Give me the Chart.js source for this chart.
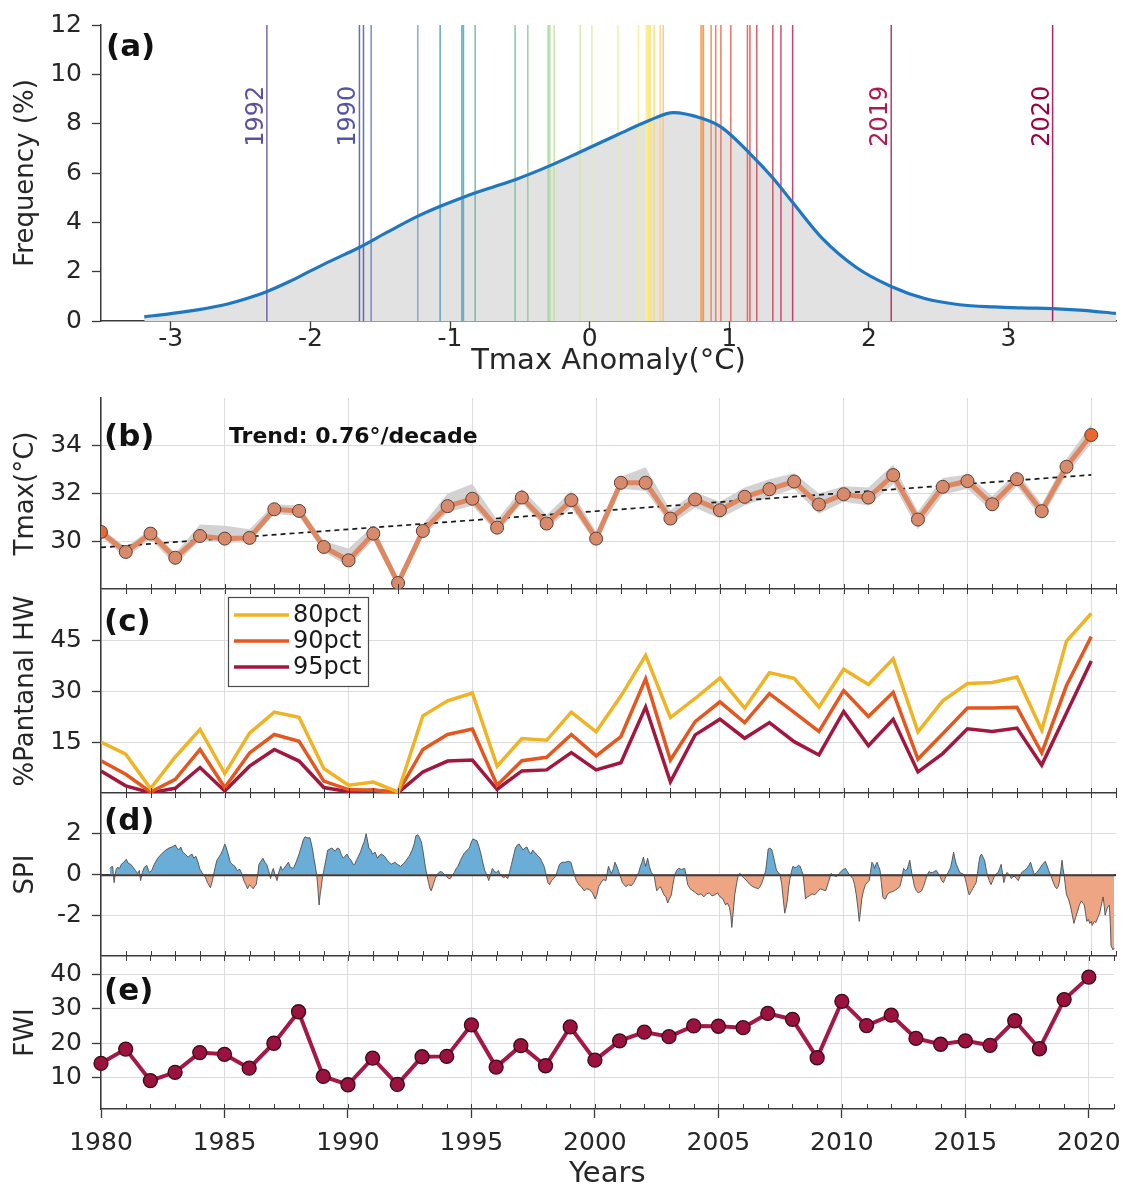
<!DOCTYPE html>
<html lang="en">
<head>
<meta charset="utf-8">
<title>Pantanal heat, drought and fire indicators 1980–2020</title>
<script src="https://cdn.jsdelivr.net/npm/chart.js@4.4.1/dist/chart.umd.min.js"></script>
<style>
  html, body { margin: 0; padding: 0; background: #ffffff; }
  #figure { position: relative; width: 1131px; height: 1189px; overflow: hidden; background: #ffffff; }
  #figure canvas { position: absolute; left: 0; top: 0; }
</style>
</head>
<body>
<div id="figure">
  <canvas id="panelA" width="1131" height="380"></canvas>
  <canvas id="panelB" width="1131" height="1189"></canvas>
  <canvas id="panelC" width="1131" height="1189"></canvas>
  <canvas id="panelD" width="1131" height="1189"></canvas>
  <canvas id="panelE" width="1131" height="1189"></canvas>
</div>
<script>
// ================= data =================
const years = [1980, 1981, 1982, 1983, 1984, 1985, 1986, 1987, 1988, 1989,
               1990, 1991, 1992, 1993, 1994, 1995, 1996, 1997, 1998, 1999,
               2000, 2001, 2002, 2003, 2004, 2005, 2006, 2007, 2008, 2009,
               2010, 2011, 2012, 2013, 2014, 2015, 2016, 2017, 2018, 2019, 2020];

// (a) density of the Tmax anomaly (°C -> %)
const kdeAnomaly = [-3.19, -3.0, -2.8, -2.6, -2.45, -2.31, -2.15, -2.01, -1.85, -1.65,
                    -1.45, -1.23, -1.07, -0.904, -0.72, -0.534, -0.283, -0.068, 0.203, 0.426,
                    0.6, 0.797, 0.94, 1.148, 1.314, 1.456, 1.661, 1.908, 2.16, 2.40,
                    2.65, 2.90, 3.1, 3.316, 3.51, 3.77];
const kdeFreq = [0.17, 0.30, 0.46, 0.68, 0.92, 1.2, 1.6, 2.0, 2.45, 2.98,
                 3.6, 4.25, 4.65, 5.02, 5.38, 5.73, 6.30, 6.85, 7.56, 8.13,
                 8.45, 8.23, 7.87, 6.79, 5.79, 4.79, 3.38, 2.18, 1.40, 0.91,
                 0.66, 0.57, 0.53, 0.50, 0.44, 0.31];
// yearly anomalies, coldest to hottest
const yearAnomalies = [-2.312, -1.649, -1.620, -1.565, -1.231, -1.071, -0.915, -0.904, -0.820, -0.534,
                       -0.443, -0.297, -0.285, -0.254, -0.068, 0.016, 0.203, 0.350, 0.405, 0.412,
                       0.419, 0.426, 0.433, 0.462, 0.505, 0.527, 0.797, 0.804, 0.815, 0.870,
                       0.903, 0.940, 1.011, 1.130, 1.148, 1.197, 1.312, 1.370, 1.454, 2.160, 3.316];
const namedYears = ['1992', '1990', '2019', '2020'];
const namedAnomalies = [-2.312, -1.649, 2.160, 3.316];
const namedLabelLevel = 8.3;

// (b) Tmax (°C) with its spread and linear trend
const tmaxC = [30.39, 29.55, 30.32, 29.31, 30.22, 30.11, 30.14, 31.34, 31.27, 29.76,
               29.20, 30.32, 28.25, 30.43, 31.47, 31.78, 30.57, 31.83, 30.74, 31.72,
               30.11, 32.45, 32.45, 30.95, 31.75, 31.30, 31.86, 32.18, 32.50, 31.54,
               31.97, 31.83, 32.77, 30.91, 32.28, 32.52, 31.55, 32.60, 31.26, 33.12, 34.45];
const tmaxUpper = [30.55, 29.75, 30.50, 29.50, 30.70, 30.65, 30.50, 31.55, 31.50, 30.00,
                   29.70, 30.65, 28.45, 30.70, 32.00, 32.40, 30.90, 32.20, 31.10, 32.10,
                   30.40, 32.70, 33.10, 31.30, 32.05, 31.65, 32.25, 32.60, 32.85, 32.00,
                   32.30, 32.25, 33.20, 31.25, 32.65, 32.80, 31.90, 32.90, 31.55, 33.45, 34.90];
const tmaxLower = [30.20, 29.30, 30.10, 29.00, 30.05, 29.95, 29.95, 31.15, 31.05, 29.55,
                   28.95, 30.05, 28.05, 30.20, 31.20, 31.50, 30.35, 31.60, 30.50, 31.40,
                   29.90, 32.20, 32.10, 30.70, 31.40, 30.95, 31.50, 31.85, 32.20, 31.15,
                   31.65, 31.50, 32.40, 30.50, 31.95, 32.20, 31.25, 32.30, 30.95, 32.80, 34.10];
const trendPerDecade = 0.76;
const trendAt1980 = 29.74;

// (c) share of the Pantanal under heatwave (%)
const hw80 = [15.0, 11.4, 1.3, 10.6, 18.7, 5.7, 17.6, 23.8, 22.3, 7.2,
              2.3, 3.2, 0.3, 22.7, 27.1, 29.4, 7.9, 16.0, 15.5, 23.8,
              18.0, 28.5, 40.5, 22.2, 27.8, 33.8, 25.0, 35.4, 33.7, 25.3,
              36.4, 31.9, 39.5, 18.0, 27.1, 32.2, 32.5, 34.1, 18.5, 44.7, 52.8];
const hw90 = [9.5, 5.5, 0.3, 4.0, 12.8, 1.6, 11.8, 17.2, 15.2, 3.5,
              1.0, 0.8, 0.2, 12.8, 17.2, 18.8, 2.3, 9.5, 10.5, 17.2,
              10.9, 16.6, 33.6, 9.7, 21.0, 26.8, 20.7, 29.2, 23.7, 18.1,
              30.1, 22.5, 29.6, 10.0, 17.4, 25.0, 25.0, 25.2, 11.8, 31.6, 46.0];
const hw95 = [6.5, 2.1, 0.1, 1.4, 7.5, 0.6, 7.9, 12.8, 9.4, 1.6,
              0.4, 0.9, 0.1, 6.2, 9.4, 9.7, 1.1, 6.5, 6.8, 11.9,
              6.8, 8.9, 25.3, 3.3, 17.1, 21.7, 16.1, 20.7, 15.1, 11.2,
              24.0, 13.9, 21.7, 6.2, 11.6, 18.9, 18.1, 19.1, 8.2, 23.5, 38.8];
const hwLabels = ['80pct', '90pct', '95pct'];

// (d) SPI as [decimal year, value]
const spiSeries = [
  [1980.36, 0.30], [1980.39, 0.35], [1980.47, 0.40], [1980.53, -0.40], [1980.60, 0.20], [1980.66, 0.35], [1980.75, 0.30], [1980.82, 0.50], [1980.92, 0.60],
  [1981.02, 0.75], [1981.10, 0.55], [1981.20, 0.50], [1981.30, 0.35], [1981.39, 0.20], [1981.48, 0.05], [1981.55, 0.20], [1981.60, -0.30], [1981.67, 0.10], [1981.75, 0.35], [1981.85, 0.45], [1981.95, 0.10],
  [1982.05, 0.20], [1982.15, 0.50], [1982.29, 0.80], [1982.40, 0.95], [1982.52, 1.10], [1982.62, 1.20], [1982.75, 1.30], [1982.87, 1.35],
  [1983.00, 1.45], [1983.07, 1.30], [1983.14, 1.20], [1983.22, 1.35], [1983.30, 1.10], [1983.40, 1.00], [1983.52, 0.85], [1983.60, 0.95], [1983.68, 1.00], [1983.75, 0.80], [1983.83, 0.90], [1983.92, 0.60],
  [1984.00, 0.25], [1984.08, 0.10], [1984.14, 0.00], [1984.22, -0.15], [1984.30, -0.40], [1984.42, -0.65], [1984.50, -0.30], [1984.55, 0.00], [1984.62, 0.40], [1984.68, 0.70], [1984.76, 0.85], [1984.84, 1.00], [1984.92, 1.20],
  [1985.00, 1.50], [1985.05, 1.35], [1985.10, 1.15], [1985.16, 0.90], [1985.22, 0.60], [1985.30, 0.50], [1985.41, 0.40], [1985.50, 0.20], [1985.61, 0.25], [1985.70, 0.00], [1985.77, -0.30], [1985.85, -0.50], [1985.92, -0.70],
  [1986.00, -0.50], [1986.07, -0.60], [1986.15, -0.70], [1986.22, -0.55], [1986.27, -0.50], [1986.33, 0.00], [1986.38, 0.50], [1986.46, 0.65], [1986.54, 0.80], [1986.62, 0.60], [1986.69, 0.50], [1986.77, 0.20], [1986.85, -0.20], [1986.90, 0.10], [1986.96, 0.30],
  [1987.03, 0.00], [1987.11, -0.30], [1987.18, 0.10], [1987.26, 0.40], [1987.33, 0.20], [1987.39, 0.30], [1987.48, 0.45], [1987.57, 0.60], [1987.65, 0.35], [1987.77, 0.30], [1987.88, 0.60],
  [1988.00, 1.00], [1988.10, 1.40], [1988.17, 1.70], [1988.24, 1.85], [1988.33, 1.80], [1988.44, 1.80], [1988.50, 1.50], [1988.55, 1.20], [1988.60, 0.80], [1988.66, 0.40], [1988.72, -0.10], [1988.75, -0.50], [1988.81, -1.50], [1988.86, -0.90], [1988.90, -0.60], [1988.95, -0.10],
  [1989.00, 0.20], [1989.08, 0.70], [1989.16, 1.20], [1989.24, 1.25], [1989.32, 1.30], [1989.40, 1.20], [1989.47, 1.15], [1989.55, 1.30], [1989.63, 1.25], [1989.70, 1.00], [1989.78, 0.80], [1989.86, 0.90], [1989.94, 1.00],
  [1990.02, 0.80], [1990.10, 0.70], [1990.18, 0.50], [1990.25, 0.50], [1990.32, 0.70], [1990.40, 0.90], [1990.48, 1.10], [1990.56, 1.40], [1990.63, 1.60], [1990.71, 2.00], [1990.76, 1.70], [1990.82, 1.30], [1990.90, 1.20], [1990.97, 1.00],
  [1991.07, 1.10], [1991.17, 0.80], [1991.25, 0.95], [1991.33, 1.00], [1991.45, 0.90], [1991.56, 0.70], [1991.64, 0.60], [1991.72, 0.50], [1991.80, 0.55], [1991.87, 0.60], [1991.97, 0.50],
  [1992.10, 0.40], [1992.20, 0.50], [1992.33, 0.70], [1992.45, 0.90], [1992.57, 1.20], [1992.65, 1.50], [1992.72, 1.90], [1992.80, 1.95], [1992.87, 1.80], [1992.94, 1.60],
  [1993.00, 1.20], [1993.05, 0.80], [1993.10, 0.40], [1993.16, 0.00], [1993.23, -0.40], [1993.29, -0.70], [1993.34, -0.80], [1993.42, -0.50], [1993.50, -0.20], [1993.58, 0.00], [1993.65, 0.10], [1993.72, 0.15], [1993.80, 0.10], [1993.88, 0.00], [1993.96, -0.10],
  [1994.04, -0.20], [1994.11, -0.20], [1994.19, -0.05], [1994.27, 0.10], [1994.35, 0.30], [1994.42, 0.40], [1994.52, 0.70], [1994.65, 1.00], [1994.75, 1.15], [1994.88, 1.30], [1994.96, 1.60],
  [1995.03, 1.75], [1995.10, 1.70], [1995.19, 1.65], [1995.27, 1.35], [1995.35, 1.00], [1995.42, 0.60], [1995.50, 0.20], [1995.58, 0.00], [1995.66, -0.30], [1995.74, 0.00], [1995.81, 0.30], [1995.89, 0.15], [1995.97, 0.10],
  [1996.05, 0.20], [1996.12, 0.00], [1996.20, -0.10], [1996.27, -0.15], [1996.35, -0.10], [1996.43, -0.20], [1996.50, 0.10], [1996.58, 0.50], [1996.66, 0.90], [1996.74, 1.30], [1996.82, 1.45], [1996.89, 1.50], [1996.97, 1.35],
  [1997.05, 1.20], [1997.12, 1.30], [1997.20, 1.35], [1997.28, 1.15], [1997.36, 1.00], [1997.44, 1.20], [1997.51, 1.10], [1997.62, 0.95], [1997.74, 0.80], [1997.82, 0.60], [1997.90, 0.40], [1997.98, 0.00],
  [1998.05, -0.40], [1998.12, -0.50], [1998.20, -0.30], [1998.28, -0.20], [1998.36, -0.10], [1998.44, 0.20], [1998.52, 0.50], [1998.62, 0.60], [1998.75, 0.60], [1998.88, 0.65], [1998.98, 0.60],
  [1999.05, 0.30], [1999.12, 0.00], [1999.20, -0.30], [1999.30, -0.50], [1999.40, -0.60], [1999.52, -0.80], [1999.62, -0.70], [1999.74, -0.75], [1999.85, -0.90], [1999.96, -1.20],
  [2000.03, -1.00], [2000.10, -0.60], [2000.20, -0.40], [2000.29, -0.25], [2000.40, -0.30], [2000.45, 0.10], [2000.50, 0.40], [2000.56, 0.20], [2000.62, 0.05], [2000.70, 0.30], [2000.76, 0.60], [2000.84, 0.40], [2000.91, 0.15], [2000.98, -0.10],
  [2001.06, -0.40], [2001.13, -0.50], [2001.20, -0.60], [2001.30, -0.50], [2001.42, -0.55], [2001.52, -0.40], [2001.64, -0.10], [2001.72, 0.10], [2001.79, 0.40], [2001.85, 0.60], [2001.91, 0.85], [2001.96, 0.60],
  [2002.00, 0.40], [2002.04, 0.60], [2002.08, 0.80], [2002.15, 0.40], [2002.23, 0.10], [2002.30, 0.00], [2002.35, -0.10], [2002.40, -0.50], [2002.45, -0.80], [2002.52, -0.70], [2002.60, -0.60], [2002.67, -0.80], [2002.74, -1.00], [2002.82, -1.10], [2002.89, -1.40], [2002.96, -1.20],
  [2003.04, -1.00], [2003.10, -0.50], [2003.18, 0.00], [2003.25, 0.20], [2003.33, 0.30], [2003.45, 0.25], [2003.58, 0.30], [2003.64, -0.10], [2003.70, -0.50], [2003.80, -0.70], [2003.91, -0.80],
  [2004.02, -0.90], [2004.13, -1.00], [2004.24, -0.95], [2004.35, -1.10], [2004.46, -0.95], [2004.57, -0.90], [2004.68, -1.05], [2004.79, -1.00], [2004.90, -0.90],
  [2005.01, -1.10], [2005.12, -1.20], [2005.23, -1.50], [2005.30, -1.40], [2005.38, -1.60], [2005.44, -2.00], [2005.48, -2.60], [2005.54, -1.80], [2005.60, -1.00], [2005.68, -0.40], [2005.75, 0.00], [2005.82, 0.05], [2005.90, -0.10],
  [2006.00, -0.20], [2006.11, -0.35], [2006.22, -0.50], [2006.33, -0.60], [2006.44, -0.65], [2006.55, -0.70], [2006.62, -0.60], [2006.70, -0.40], [2006.78, -0.10], [2006.85, 0.20], [2006.90, 0.70], [2006.95, 1.25],
  [2007.02, 1.30], [2007.10, 1.20], [2007.18, 0.80], [2007.25, 0.40], [2007.29, 0.20], [2007.36, 0.10], [2007.43, 0.00], [2007.50, -0.50], [2007.54, -1.00], [2007.62, -1.90], [2007.68, -1.60], [2007.73, -1.20], [2007.78, -0.60], [2007.83, -0.20], [2007.90, 0.20], [2007.95, 0.40],
  [2008.02, 0.35], [2008.09, 0.35], [2008.17, 0.45], [2008.24, 0.40], [2008.30, 0.20], [2008.36, 0.00], [2008.41, -0.60], [2008.46, -1.20], [2008.53, -1.10], [2008.61, -1.05], [2008.72, -0.95], [2008.83, -1.00], [2008.94, -0.85],
  [2009.05, -0.70], [2009.16, -0.75], [2009.27, -0.80], [2009.38, -0.40], [2009.49, 0.05], [2009.60, -0.05], [2009.71, -0.10], [2009.82, 0.05], [2009.93, 0.20],
  [2010.00, 0.25], [2010.07, 0.30], [2010.15, 0.15], [2010.22, 0.00], [2010.30, -0.10], [2010.37, -0.20], [2010.44, -0.50], [2010.51, -1.00], [2010.57, -1.60], [2010.63, -2.30], [2010.68, -1.80], [2010.73, -1.20], [2010.80, -0.80], [2010.88, -0.50], [2010.95, -0.40],
  [2011.03, -0.30], [2011.08, 0.10], [2011.14, 0.60], [2011.20, 0.50], [2011.25, 0.30], [2011.30, 0.50], [2011.35, 0.60], [2011.41, 0.40], [2011.47, 0.20], [2011.52, -0.40], [2011.58, -1.10], [2011.64, -1.20], [2011.69, -1.20], [2011.76, -1.00], [2011.83, -0.90], [2011.94, -0.85],
  [2012.05, -0.80], [2012.16, -0.70], [2012.27, -0.60], [2012.35, -0.20], [2012.42, 0.30], [2012.50, 0.20], [2012.57, 0.25], [2012.62, 0.50], [2012.67, 0.70], [2012.72, 0.30], [2012.76, 0.00], [2012.81, -0.30], [2012.86, -0.60], [2012.94, -0.80],
  [2013.01, -0.90], [2013.08, -0.85], [2013.15, -0.80], [2013.22, -0.60], [2013.30, -0.30], [2013.38, 0.00], [2013.45, 0.15], [2013.52, 0.10], [2013.59, 0.10], [2013.66, 0.15], [2013.74, 0.20], [2013.82, 0.05], [2013.89, -0.10], [2013.96, -0.30],
  [2014.03, -0.40], [2014.08, -0.25], [2014.13, -0.10], [2014.22, 0.10], [2014.32, 0.35], [2014.38, 0.70], [2014.44, 1.10], [2014.49, 0.80], [2014.55, 0.50], [2014.62, 0.30], [2014.69, 0.10], [2014.77, 0.05], [2014.85, 0.00], [2014.91, -0.20], [2014.97, -0.50],
  [2015.02, -0.80], [2015.07, -1.00], [2015.14, -0.85], [2015.21, -0.70], [2015.28, -0.55], [2015.35, -0.40], [2015.40, 0.00], [2015.45, 0.50], [2015.51, 0.90], [2015.57, 1.00], [2015.63, 0.85], [2015.69, 0.70], [2015.75, 0.30], [2015.80, 0.00], [2015.88, -0.30], [2015.95, -0.50],
  [2016.02, -0.30], [2016.10, -0.05], [2016.17, 0.05], [2016.24, 0.10], [2016.30, 0.30], [2016.36, 0.50], [2016.41, 0.10], [2016.47, -0.40], [2016.53, -0.10], [2016.59, 0.10], [2016.68, 0.00], [2016.77, -0.20], [2016.84, -0.10], [2016.91, -0.10], [2016.98, -0.20],
  [2017.05, -0.30], [2017.12, -0.10], [2017.19, 0.10], [2017.30, 0.20], [2017.40, 0.30], [2017.48, 0.45], [2017.55, 0.60], [2017.62, 0.30], [2017.70, 0.00], [2017.80, 0.10], [2017.92, 0.30],
  [2018.03, 0.50], [2018.14, 0.65], [2018.21, 0.45], [2018.28, 0.20], [2018.38, -0.10], [2018.47, -0.40], [2018.54, -0.60], [2018.61, -0.70], [2018.66, -0.60], [2018.71, -0.40], [2018.77, 0.20], [2018.82, 0.70], [2018.86, 0.30], [2018.90, 0.00], [2018.95, -0.50],
  [2019.00, -1.00], [2019.08, -1.20], [2019.15, -1.50], [2019.22, -1.90], [2019.30, -2.40], [2019.37, -2.10], [2019.45, -1.80], [2019.52, -1.50], [2019.60, -1.30], [2019.66, -1.40], [2019.72, -1.50], [2019.77, -1.90], [2019.82, -2.30], [2019.88, -2.20], [2019.94, -2.40],
  [2020.00, -2.30], [2020.04, -2.50], [2020.12, -2.30], [2020.19, -2.35], [2020.27, -2.10], [2020.34, -1.90], [2020.41, -1.50], [2020.48, -1.10], [2020.53, -1.60], [2020.56, -2.00], [2020.61, -1.80], [2020.66, -1.60], [2020.73, -1.50], [2020.77, -2.40], [2020.80, -3.50], [2020.88, -3.70], [2020.93, -3.60]
];

// (e) Fire Weather Index
const fwi = [14.2, 18.3, 9.2, 11.6, 17.3, 16.8, 12.8, 20.0, 29.1, 10.4,
             8.0, 15.7, 8.1, 16.1, 16.2, 25.3, 13.1, 19.3, 13.5, 24.7,
             15.1, 20.7, 23.2, 21.9, 25.0, 24.9, 24.5, 28.6, 26.9, 15.8,
             32.1, 25.1, 28.1, 21.4, 19.7, 20.7, 19.4, 26.5, 18.4, 32.6, 39.1];

// tick values
const anomalyTicks = [-3, -2, -1, 0, 1, 2, 3];
const freqTicks = [0, 2, 4, 6, 8, 10, 12];
const yearTicks = [1980, 1985, 1990, 1995, 2000, 2005, 2010, 2015, 2020];
const tmaxTicks = [30, 32, 34];
const hwTicks = [15, 30, 45];
const spiTicks = [-2, 0, 2];
const fwiTicks = [10, 20, 30, 40];

// ================= layout & style =================
const FIG_W = 1131, FIG_H = 1189, PLOT_L = 101, PLOT_R = 1116;
const FONT = "'DejaVu Sans', 'Noto Sans', sans-serif";
const INK = '#262626', AXIS = '#3a3a3a', GRID = '#dcdcdc';
Chart.defaults.font.family = FONT;
Chart.defaults.color = INK;

// spectral ramp used to colour the yearly anomaly lines by rank
const rampStops = [
  [0.00, [94, 79, 162]], [0.05, [72, 88, 172]], [0.10, [110, 160, 200]], [0.13, [60, 150, 190]],
  [0.18, [70, 170, 180]], [0.22, [110, 190, 140]], [0.30, [175, 220, 150]], [0.38, [225, 238, 165]],
  [0.45, [250, 240, 140]], [0.55, [253, 225, 100]], [0.62, [250, 200, 130]], [0.65, [248, 160, 70]],
  [0.75, [240, 110, 70]], [0.85, [225, 75, 75]], [0.92, [200, 50, 90]], [0.97, [180, 30, 80]], [1.00, [158, 1, 66]]
];
function rampColor(t, alpha) {
  let k = 0;
  while (k < rampStops.length - 2 && t > rampStops[k + 1][0]) k++;
  const [t0, c0] = rampStops[k], [t1, c1] = rampStops[k + 1];
  const f = Math.min(1, Math.max(0, (t - t0) / (t1 - t0)));
  const c = c0.map((v, j) => Math.round(v + (c1[j] - v) * f));
  return `rgba(${c[0]},${c[1]},${c[2]},${alpha})`;
}
const rankT = v => yearAnomalies.indexOf(v) / (yearAnomalies.length - 1);

const asPoints = arr => years.map((yr, i) => ({x: yr, y: arr[i]}));

function frame(top) {
  return {
    responsive: false, maintainAspectRatio: false, animation: false, devicePixelRatio: 1, events: [],
    layout: {padding: {left: 0, right: FIG_W - PLOT_R, top: top, bottom: 0}}
  };
}

function valueAxis(min, max, ticks, title, gridOnArea) {
  return {
    type: 'linear', min: min, max: max,
    afterFit: s => { s.width = PLOT_L; },
    afterBuildTicks: s => { s.ticks = ticks.map(v => ({value: v})); },
    border: {display: true, color: AXIS, width: 1.5},
    grid: {
      display: true, drawOnChartArea: gridOnArea, tickLength: 9, tickColor: AXIS, tickWidth: 1.3,
      color: c => (c.tick && c.tick.value === 0 && min < 0) ? AXIS : GRID, lineWidth: 1
    },
    ticks: {font: {size: 25}, color: INK, padding: 10, callback: v => String(v)},
    title: {display: true, text: title, font: {size: 26}, color: INK, padding: {top: 11, bottom: 0}}
  };
}

function yearAxis(bottom, canvasH, withLabels) {
  return {
    type: 'linear', min: 1980, max: 2021,
    afterFit: s => { s.height = canvasH - bottom; },
    afterBuildTicks: s => { s.ticks = yearTicks.map(v => ({value: v})); },
    border: {display: true, color: AXIS, width: 1.5},
    grid: {color: GRID, lineWidth: 1, drawTicks: withLabels, tickLength: 9, tickColor: AXIS, tickWidth: 1.3},
    ticks: {display: withLabels, font: {size: 25}, color: INK, padding: 10, maxRotation: 0, autoSkip: false,
            callback: v => String(v)},
    title: {display: withLabels, text: 'Years', font: {size: 29}, color: INK, padding: {top: 0, bottom: -3}}
  };
}

// panel letters, notes, minor year ticks, named-year labels and the heatwave legend
const decor = {
  id: 'decor',
  afterDraw(chart, args, o) {
    const {ctx, chartArea: a, scales} = chart;
    ctx.save();
    if (o.zeroLine) {
      const y0 = Math.round(scales.y.getPixelForValue(0)) + 0.5;
      ctx.strokeStyle = AXIS; ctx.lineWidth = 1.4;
      ctx.beginPath(); ctx.moveTo(a.left, y0); ctx.lineTo(a.right, y0); ctx.stroke();
    }
    if (o.minorTop || o.minorBottom) {
      ctx.strokeStyle = AXIS; ctx.lineWidth = 1;
      ctx.beginPath();
      for (let yr = 1981; yr <= 2021; yr++) {
        const px = Math.round(scales.x.getPixelForValue(yr)) + 0.5;
        if (o.minorBottom) { ctx.moveTo(px, a.bottom); ctx.lineTo(px, a.bottom - 5); }
        if (o.minorTop) { ctx.moveTo(px, a.top); ctx.lineTo(px, a.top + 5); }
      }
      ctx.stroke();
    }
    if (o.namedYears) {
      ctx.font = `24px ${FONT}`;
      ctx.textAlign = 'center'; ctx.textBaseline = 'alphabetic';
      namedYears.forEach((yr, i) => {
        const px = scales.x.getPixelForValue(namedAnomalies[i]);
        const py = scales.y.getPixelForValue(namedLabelLevel);
        ctx.save();
        ctx.translate(px - 4, py);
        ctx.rotate(-Math.PI / 2);
        ctx.fillStyle = rampColor(rankT(namedAnomalies[i]), 1);
        ctx.fillText(yr, 0, 0);
        ctx.restore();
      });
    }
    if (o.legendBox) {
      const L = o.legendBox;
      ctx.fillStyle = '#ffffff';
      ctx.fillRect(L.x, L.y, L.w, L.h);
      ctx.strokeStyle = '#4a4a4a'; ctx.lineWidth = 1.2;
      ctx.strokeRect(L.x + 0.5, L.y + 0.5, L.w, L.h);
      ctx.font = `24px ${FONT}`; ctx.textAlign = 'left'; ctx.textBaseline = 'middle';
      chart.data.datasets.forEach((ds, i) => {
        const y = L.y + L.firstRow + i * L.rowGap;
        ctx.strokeStyle = ds.borderColor; ctx.lineWidth = ds.borderWidth;
        ctx.beginPath(); ctx.moveTo(L.x + 6, y); ctx.lineTo(L.x + 61, y); ctx.stroke();
        ctx.fillStyle = '#1a1a1a';
        ctx.fillText(ds.label, L.x + 65, y + 1);
      });
    }
    if (o.note) {
      ctx.font = `bold 22px ${FONT}`; ctx.fillStyle = '#111'; ctx.textAlign = 'left'; ctx.textBaseline = 'middle';
      ctx.fillText(`Trend: ${trendPerDecade.toFixed(2)}°/decade`, o.note.x, o.note.y);
    }
    if (o.letter) {
      ctx.font = `bold 31px ${FONT}`; ctx.fillStyle = '#111'; ctx.textAlign = 'left'; ctx.textBaseline = 'middle';
      ctx.fillText(o.letter.text, o.letter.x, o.letter.y);
    }
    ctx.restore();
  }
};
Chart.register(decor);

const quietPlugins = {legend: {display: false}, tooltip: {enabled: false}};

// ---------- (a) anomaly distribution ----------
new Chart(document.getElementById('panelA'), {
  type: 'scatter',
  data: {
    datasets: [
      {label: 'density', data: kdeAnomaly.map((x, i) => ({x: x, y: kdeFreq[i]})), showLine: true,
       borderColor: '#1f77c0', borderWidth: 3.2, pointRadius: 0, fill: 'origin', backgroundColor: '#e2e2e2',
       cubicInterpolationMode: 'monotone', order: 0},
      ...yearAnomalies.map((v, i) => ({
        label: 'year ' + i, data: [{x: v, y: 0}, {x: v, y: 12}], showLine: true,
        borderColor: rampColor(i / (yearAnomalies.length - 1), 0.85), borderWidth: 1.5,
        pointRadius: 0, fill: false, order: 1
      }))
    ]
  },
  options: Object.assign(frame(22), {
    scales: {
      x: {
        type: 'linear', min: -3.5, max: 3.77,
        afterFit: s => { s.height = 380 - 321; },
        afterBuildTicks: s => { s.ticks = anomalyTicks.map(v => ({value: v})); },
        border: {display: true, color: AXIS, width: 1.5},
        grid: {drawOnChartArea: false, tickLength: 9, tickColor: AXIS, tickWidth: 1.3},
        ticks: {font: {size: 25}, color: INK, padding: -6, maxRotation: 0, callback: v => String(v)},
        title: {display: true, text: 'Tmax Anomaly(°C)', font: {size: 29}, color: INK, padding: {top: 0, bottom: 1}}
      },
      y: valueAxis(0, 12, freqTicks, 'Frequency (%)', false)
    },
    plugins: Object.assign({}, quietPlugins, {
      filler: {drawTime: 'beforeDatasetsDraw'},
      decor: {namedYears: true, letter: {text: '(a)', x: 106, y: 48}}
    })
  })
});

// ---------- (b) Tmax ----------
new Chart(document.getElementById('panelB'), {
  type: 'line',
  data: {
    datasets: [
      {label: 'upper', data: asPoints(tmaxUpper), borderColor: 'rgba(0,0,0,0)', pointRadius: 0,
       fill: '+1', backgroundColor: '#d2d2d2', order: 3},
      {label: 'lower', data: asPoints(tmaxLower), borderColor: 'rgba(0,0,0,0)', pointRadius: 0, fill: false, order: 3},
      {label: 'trend', data: [{x: 1980, y: trendAt1980}, {x: 2020, y: trendAt1980 + trendPerDecade * (2020 - 1980) / 10}],
       borderColor: '#1a1a1a', borderWidth: 1.7, borderDash: [5, 4], pointRadius: 0, fill: false, order: 1},
      {label: 'Tmax', data: asPoints(tmaxC), borderColor: '#df8761', borderWidth: 5, fill: false,
       pointRadius: 6.5, pointBorderColor: '#5b3f35', pointBorderWidth: 1,
       pointBackgroundColor: tmaxC.map((v, i) => (i === 0 || i === tmaxC.length - 1) ? '#e8682f' : '#d88b6c'),
       order: 0}
    ]
  },
  options: Object.assign(frame(398), {
    scales: {x: yearAxis(589, FIG_H, false), y: valueAxis(28, 36, tmaxTicks, 'Tmax(°C)', true)},
    plugins: Object.assign({}, quietPlugins, {
      decor: {minorBottom: true, letter: {text: '(b)', x: 104, y: 438}, note: {x: 229, y: 437}}
    })
  })
});

// ---------- (c) heatwave extent ----------
new Chart(document.getElementById('panelC'), {
  type: 'line',
  data: {
    datasets: [
      {label: hwLabels[0], data: asPoints(hw80), borderColor: '#f0b323', borderWidth: 3.5, pointRadius: 0, fill: false},
      {label: hwLabels[1], data: asPoints(hw90), borderColor: '#e4571e', borderWidth: 3.5, pointRadius: 0, fill: false},
      {label: hwLabels[2], data: asPoints(hw95), borderColor: '#a3173f', borderWidth: 3.5, pointRadius: 0, fill: false}
    ]
  },
  options: Object.assign(frame(589), {
    scales: {x: yearAxis(793, FIG_H, false), y: valueAxis(0, 60, hwTicks, '%Pantanal HW', true)},
    plugins: Object.assign({}, quietPlugins, {
      decor: {minorTop: true, minorBottom: true, letter: {text: '(c)', x: 104, y: 623},
              legendBox: {x: 228, y: 597, w: 140, h: 89, firstRow: 18, rowGap: 26}}
    })
  })
});

// ---------- (d) SPI ----------
new Chart(document.getElementById('panelD'), {
  type: 'line',
  data: {
    datasets: [
      {label: 'SPI', data: spiSeries.map(p => ({x: p[0], y: p[1]})), borderColor: '#4d4d4d', borderWidth: 0.9,
       pointRadius: 0, fill: {target: {value: 0}, above: '#6aaed8', below: '#eea583'}}
    ]
  },
  options: Object.assign(frame(793), {
    scales: {x: yearAxis(956, FIG_H, false), y: valueAxis(-4, 4, spiTicks, 'SPI', true)},
    plugins: Object.assign({}, quietPlugins, {
      decor: {zeroLine: true, minorTop: true, minorBottom: true, letter: {text: '(d)', x: 104, y: 822}}
    })
  })
});

// ---------- (e) FWI ----------
new Chart(document.getElementById('panelE'), {
  type: 'line',
  data: {
    datasets: [
      {label: 'FWI', data: asPoints(fwi), borderColor: '#a51846', borderWidth: 4, fill: false, clip: false,
       pointRadius: 7, pointBackgroundColor: '#9b1240', pointBorderColor: '#3a0b16', pointBorderWidth: 1.3}
    ]
  },
  options: Object.assign(frame(956), {
    scales: {x: yearAxis(1109, FIG_H, true), y: valueAxis(1, 45.2, fwiTicks, 'FWI', true)},
    plugins: Object.assign({}, quietPlugins, {
      decor: {minorTop: true, minorBottom: true, letter: {text: '(e)', x: 104, y: 992}}
    })
  })
});
</script>
</body>
</html>
